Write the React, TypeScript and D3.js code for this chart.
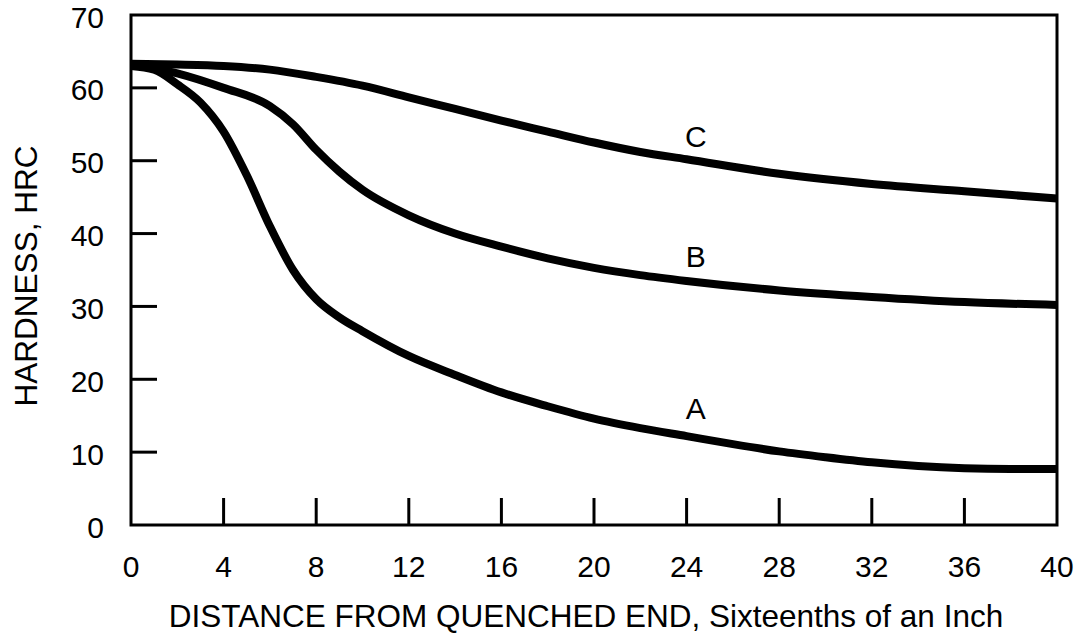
import React, { useEffect, useRef } from 'react';
import * as d3 from 'd3';

// distance from quenched end (1/16 in) and hardness (HRC)
const distA = [0, 1, 2, 3, 4, 5, 6, 7, 8, 9, 10, 12, 14, 16, 18, 20, 22, 24, 26, 28, 30, 32, 34, 36, 38, 40];
const hrcA = [63, 62.5, 60.5, 58, 54, 48, 41, 35, 31, 28.5, 26.6, 23.2, 20.6, 18.2, 16.3, 14.6, 13.3, 12.2, 11.1, 10.1, 9.3, 8.6, 8.1, 7.8, 7.7, 7.7];

const distB = [0, 2, 4, 6, 7, 8, 9, 10, 12, 14, 16, 18, 20, 22, 24, 28, 32, 36, 40];
const hrcB = [63.3, 62, 60, 57.5, 55, 51.5, 48.5, 46, 42.5, 40, 38.2, 36.6, 35.3, 34.3, 33.5, 32.2, 31.3, 30.6, 30.2];

const distC = [0, 2, 4, 6, 8, 10, 12, 14, 16, 18, 20, 22, 24, 28, 32, 36, 40];
const hrcC = [63.3, 63.2, 63, 62.5, 61.5, 60.3, 58.7, 57.1, 55.5, 54, 52.5, 51.2, 50.2, 48.2, 46.8, 45.8, 44.8];

const curveNames = ['A', 'B', 'C'];
const labelPos = [[24.4, 14.5], [24.4, 35.4], [24.4, 51.9]];

const xTicks = [0, 4, 8, 12, 16, 20, 24, 28, 32, 36, 40];
const yTicks = [0, 10, 20, 30, 40, 50, 60, 70];

const App = () => {
  const ref = useRef(null);

  useEffect(() => {
    const svg = d3.select(ref.current);
    svg.selectAll('*').remove();

    const left = 131, right = 1057, top = 15, bottom = 525;
    const x = d3.scaleLinear().domain([0, 40]).range([left, right]);
    const y = d3.scaleLinear().domain([0, 70]).range([bottom, top]);
    const font = '"Liberation Sans", Arial, Helvetica, sans-serif';

    const series = [
      distA.map((d, i) => [d, hrcA[i]]),
      distB.map((d, i) => [d, hrcB[i]]),
      distC.map((d, i) => [d, hrcC[i]]),
    ];

    const line = d3.line()
      .x(d => x(d[0]))
      .y(d => y(d[1]))
      .curve(d3.curveMonotoneX);

    svg.append('g').selectAll('path')
      .data(series)
      .join('path')
        .attr('fill', 'none')
        .attr('stroke', '#000')
        .attr('stroke-width', 8)
        .attr('d', d => line(d));

    // frame
    svg.append('rect')
      .attr('x', left).attr('y', top)
      .attr('width', right - left).attr('height', bottom - top)
      .attr('fill', 'none').attr('stroke', '#000').attr('stroke-width', 3);

    // inward ticks
    svg.append('g').selectAll('line')
      .data(yTicks.filter(t => t > 0 && t < 70))
      .join('line')
        .attr('x1', left).attr('x2', left + 26)
        .attr('y1', d => y(d)).attr('y2', d => y(d))
        .attr('stroke', '#000').attr('stroke-width', 3);

    svg.append('g').selectAll('line')
      .data(xTicks.filter(t => t > 0 && t < 40))
      .join('line')
        .attr('x1', d => x(d)).attr('x2', d => x(d))
        .attr('y1', bottom).attr('y2', bottom - 27)
        .attr('stroke', '#000').attr('stroke-width', 3);

    // tick labels
    svg.append('g').selectAll('text')
      .data(yTicks)
      .join('text')
        .attr('x', 104).attr('y', d => y(d))
        .attr('dy', '0.42em')
        .attr('text-anchor', 'end')
        .style('font', `30px ${font}`)
        .text(d => d);

    svg.append('g').selectAll('text')
      .data(xTicks)
      .join('text')
        .attr('x', d => x(d)).attr('y', 577)
        .attr('text-anchor', 'middle')
        .style('font', `30px ${font}`)
        .text(d => d);

    // curve labels
    svg.append('g').selectAll('text')
      .data(curveNames)
      .join('text')
        .attr('x', (d, i) => x(labelPos[i][0]))
        .attr('y', (d, i) => y(labelPos[i][1]))
        .attr('text-anchor', 'middle')
        .style('font', `30px ${font}`)
        .text(d => d);

    // axis titles
    svg.append('text')
      .attr('x', 586).attr('y', 627)
      .attr('text-anchor', 'middle')
      .style('font', `31.5px ${font}`)
      .text('DISTANCE FROM QUENCHED END, Sixteenths of an Inch');

    svg.append('text')
      .attr('transform', `translate(37,276) rotate(-90)`)
      .attr('text-anchor', 'middle')
      .style('font', `31.5px ${font}`)
      .text('HARDNESS, HRC');
  }, []);

  return (
    <svg ref={ref} width="1079" height="635"
      style={{ position: 'absolute', left: 0, top: 0, background: '#fff' }}></svg>
  );
};

export default App;
